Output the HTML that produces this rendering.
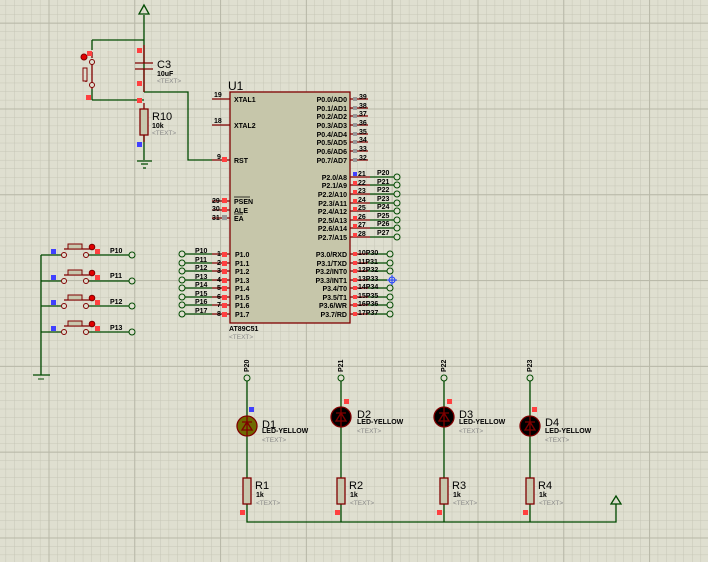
<!DOCTYPE html>
<html><head><meta charset="utf-8"><style>
html,body{margin:0;padding:0;background:#dfdfd0;}
svg{display:block;font-family:"Liberation Sans",sans-serif;}
.g{stroke:#004a00;stroke-width:1.3;fill:none}
.r{stroke:#800000;stroke-width:1.3;fill:none}
.pl{font-size:7px;fill:#000;font-weight:bold}
.t{font-size:6.5px;fill:#888}
.n{font-size:7px;fill:#000;font-weight:bold}
.big{font-size:11px;fill:#000}
</style></head><body>
<svg width="708" height="562" viewBox="0 0 708 562">
<defs>
<pattern id="mi" x="5.6" y="5.5" width="8.58" height="8.58" patternUnits="userSpaceOnUse">
<path d="M0 0H8.58M0 0V8.58" stroke="#c6c6b6" stroke-width="1"/></pattern>
<pattern id="ma" x="48.5" y="22.7" width="85.8" height="85.8" patternUnits="userSpaceOnUse">
<path d="M0 0H85.8M0 0V85.8" stroke="#b8b8a8" stroke-width="2"/></pattern>
</defs>
<rect width="708" height="562" fill="#dfdfd0"/>
<rect width="708" height="562" fill="url(#mi)"/>
<rect width="708" height="562" fill="url(#ma)"/>

<!-- top power / reset -->
<path class="g" d="M144 15V92M144 135V160M92 40H144M92 40V50M92 100H144M92 100V89M144 92H188V160H212"/>
<path d="M139 14L144 5L149 14Z" fill="none" stroke="#004a00" stroke-width="1.3"/>
<path class="r" d="M144 45V63M144 69V92M135 63H153M135 69H153M92 52V58M92 89V84M86 68V82M92 62V85"/>
<circle cx="92" cy="62" r="2.5" fill="#dfdfd0" stroke="#800000"/>
<circle cx="92" cy="85" r="2.5" fill="#dfdfd0" stroke="#800000"/>
<rect x="83" y="68" width="4" height="13" fill="#dfdfd0" stroke="#800000"/>
<circle cx="84" cy="57" r="3" fill="#e00000" stroke="#800000"/>
<rect x="87" y="51" width="5" height="5" fill="#ff4040"/>
<rect x="86" y="95" width="5" height="5" fill="#ff4040"/>
<rect x="137" y="48" width="5" height="5" fill="#ff4040"/>
<rect x="137" y="81" width="5" height="5" fill="#ff4040"/>
<rect x="137" y="98" width="5" height="5" fill="#ff4040"/>
<rect x="140" y="109" width="8" height="26" fill="#c8c8ae" stroke="#800000" stroke-width="1.3"/>
<path class="r" d="M144 103V109M144 135V142"/>
<rect x="137" y="142" width="5" height="5" fill="#4040ff"/>
<path class="g" d="M137 161H152M141 164H148M143 168H146"/>
<text x="157" y="68" class="big">C3</text><text x="157" y="76" class="n">10uF</text><text x="157" y="83" class="t">&lt;TEXT&gt;</text>
<text x="152" y="120" class="big">R10</text><text x="152" y="128" class="n">10k</text><text x="152" y="135" class="t">&lt;TEXT&gt;</text>

<!-- U1 -->
<rect x="230" y="92" width="120" height="231" fill="#c6c6aa" stroke="#800000" stroke-width="1.3"/>
<text x="228" y="90" font-size="12" fill="#000">U1</text>
<text x="229" y="331" class="n">AT89C51</text><text x="229" y="339" class="t">&lt;TEXT&gt;</text>
<path class="r" d="M212 99H230M212 125H230M212 160H230M212 201H230M212 210H230M212 218H230"/>
<text x="214" y="97" class="n">19</text><text x="214" y="123" class="n">18</text><text x="217" y="159" class="n">9</text>
<text x="212" y="203" class="n">29</text><text x="212" y="211" class="n">30</text><text x="212" y="220" class="n">31</text>
<rect x="222" y="157" width="5" height="5" fill="#ff4040"/><rect x="222" y="198" width="5" height="5" fill="#ff4040"/><rect x="222" y="207" width="5" height="5" fill="#ff4040"/><rect x="222" y="215" width="5" height="5" fill="#999"/>
<g class="pl"><text x="234" y="102">XTAL1</text><text x="234" y="128">XTAL2</text><text x="234" y="163">RST</text>
<text x="234" y="204">PSEN</text><text x="234" y="213">ALE</text><text x="234" y="221">EA</text>
<text x="235" y="257">P1.0</text><text x="235" y="266">P1.1</text><text x="235" y="274">P1.2</text><text x="235" y="283">P1.3</text><text x="235" y="291">P1.4</text><text x="235" y="300">P1.5</text><text x="235" y="308">P1.6</text><text x="235" y="317">P1.7</text>
</g>
<path d="M234 197H250M234 214H243" stroke="#000" stroke-width="0.7"/>
<!-- P1 left -->
<path class="g" d="M185 254H212M185 263H212M185 271H212M185 280H212M185 288H212M185 297H212M185 305H212M185 314H212"/>
<path class="r" d="M212 254H230M212 263H230M212 271H230M212 280H230M212 288H230M212 297H230M212 305H230M212 314H230"/>
<g fill="#dfdfd0" stroke="#004a00"><circle cx="182" cy="254" r="3"/><circle cx="182" cy="263" r="3"/><circle cx="182" cy="271" r="3"/><circle cx="182" cy="280" r="3"/><circle cx="182" cy="288" r="3"/><circle cx="182" cy="297" r="3"/><circle cx="182" cy="305" r="3"/><circle cx="182" cy="314" r="3"/></g>
<g class="n"><text x="195" y="253">P10</text><text x="195" y="262">P11</text><text x="195" y="270">P12</text><text x="195" y="279">P13</text><text x="195" y="287">P14</text><text x="195" y="296">P15</text><text x="195" y="304">P16</text><text x="195" y="313">P17</text>
<text x="217" y="256">1</text><text x="217" y="265">2</text><text x="217" y="273">3</text><text x="217" y="282">4</text><text x="217" y="290">5</text><text x="217" y="299">6</text><text x="217" y="307">7</text><text x="217" y="316">8</text></g>
<g fill="#ff4040"><rect x="222" y="252" width="5" height="5"/><rect x="222" y="261" width="5" height="5"/><rect x="222" y="269" width="5" height="5"/><rect x="222" y="278" width="5" height="5"/><rect x="222" y="286" width="5" height="5"/><rect x="222" y="295" width="5" height="5"/><rect x="222" y="303" width="5" height="5"/><rect x="222" y="312" width="5" height="5"/></g>

<!-- P0 right -->
<path class="r" d="M350 99H368M350 108H368M350 116H368M350 125H368M350 134H368M350 142H368M350 151H368M350 160H368"/>
<g fill="#999"><rect x="353" y="97" width="4" height="4"/><rect x="353" y="106" width="4" height="4"/><rect x="353" y="114" width="4" height="4"/><rect x="353" y="123" width="4" height="4"/><rect x="353" y="132" width="4" height="4"/><rect x="353" y="140" width="4" height="4"/><rect x="353" y="149" width="4" height="4"/><rect x="353" y="158" width="4" height="4"/></g>
<g class="n"><text x="359" y="99">39</text><text x="359" y="108">38</text><text x="359" y="116">37</text><text x="359" y="125">36</text><text x="359" y="134">35</text><text x="359" y="142">34</text><text x="359" y="151">33</text><text x="359" y="160">32</text></g>
<g class="pl" text-anchor="end"><text x="347" y="102">P0.0/AD0</text><text x="347" y="111">P0.1/AD1</text><text x="347" y="119">P0.2/AD2</text><text x="347" y="128">P0.3/AD3</text><text x="347" y="137">P0.4/AD4</text><text x="347" y="145">P0.5/AD5</text><text x="347" y="154">P0.6/AD6</text><text x="347" y="163">P0.7/AD7</text>
<text x="347" y="180">P2.0/A8</text><text x="347" y="188">P2.1/A9</text><text x="347" y="197">P2.2/A10</text><text x="347" y="206">P2.3/A11</text><text x="347" y="214">P2.4/A12</text><text x="347" y="223">P2.5/A13</text><text x="347" y="231">P2.6/A14</text><text x="347" y="240">P2.7/A15</text>
<text x="347" y="257">P3.0/RXD</text><text x="347" y="266">P3.1/TXD</text><text x="347" y="274">P3.2/INT0</text><text x="347" y="283">P3.3/INT1</text><text x="347" y="291">P3.4/T0</text><text x="347" y="300">P3.5/T1</text><text x="347" y="308">P3.6/WR</text><text x="347" y="317">P3.7/RD</text></g>
<!-- P2 -->
<path class="r" d="M350 177H370M350 185H370M350 194H370M350 203H370M350 211H370M350 220H370M350 228H370M350 237H370"/>
<path class="g" d="M370 185H394M370 194H394M370 203H394M370 211H394M370 220H394M370 228H394M370 237H394M370 177H394"/>
<g fill="#dfdfd0" stroke="#004a00"><circle cx="397" cy="177" r="3"/><circle cx="397" cy="185" r="3"/><circle cx="397" cy="194" r="3"/><circle cx="397" cy="203" r="3"/><circle cx="397" cy="211" r="3"/><circle cx="397" cy="220" r="3"/><circle cx="397" cy="228" r="3"/><circle cx="397" cy="237" r="3"/></g>
<rect x="353" y="172" width="4" height="4" fill="#4040ff"/>
<g fill="#ff4040"><rect x="353" y="181" width="4" height="4"/><rect x="353" y="190" width="4" height="4"/><rect x="353" y="199" width="4" height="4"/><rect x="353" y="207" width="4" height="4"/><rect x="353" y="216" width="4" height="4"/><rect x="353" y="224" width="4" height="4"/><rect x="353" y="233" width="4" height="4"/></g>
<g class="n"><text x="358" y="176">21</text><text x="358" y="185">22</text><text x="358" y="193">23</text><text x="358" y="202">24</text><text x="358" y="210">25</text><text x="358" y="219">26</text><text x="358" y="227">27</text><text x="358" y="236">28</text>
<text x="377" y="175">P20</text><text x="377" y="184">P21</text><text x="377" y="192">P22</text><text x="377" y="201">P23</text><text x="377" y="209">P24</text><text x="377" y="218">P25</text><text x="377" y="226">P26</text><text x="377" y="235">P27</text></g>
<!-- P3 -->
<path class="r" d="M350 254H368M350 263H368M350 271H368M350 280H368M350 288H368M350 297H368M350 305H368M350 314H368"/>
<path class="g" d="M368 254H387M368 263H387M368 271H387M368 280H387M368 288H387M368 297H387M368 305H387M368 314H387"/>
<g fill="#dfdfd0" stroke="#004a00"><circle cx="390" cy="254" r="3"/><circle cx="390" cy="263" r="3"/><circle cx="390" cy="271" r="3"/><circle cx="390" cy="288" r="3"/><circle cx="390" cy="297" r="3"/><circle cx="390" cy="305" r="3"/><circle cx="390" cy="314" r="3"/></g>
<circle cx="392" cy="280" r="3" fill="none" stroke="#2040ff"/><path d="M387 280H397M392 275V285" stroke="#2040ff"/>
<g fill="#ff4040"><rect x="353" y="252" width="4" height="4"/><rect x="353" y="261" width="4" height="4"/><rect x="353" y="269" width="4" height="4"/><rect x="353" y="278" width="4" height="4"/><rect x="353" y="286" width="4" height="4"/><rect x="353" y="295" width="4" height="4"/><rect x="353" y="303" width="4" height="4"/><rect x="353" y="312" width="4" height="4"/></g>
<g class="n"><text x="358" y="255">10P30</text><text x="358" y="264">11P31</text><text x="358" y="272">12P32</text><text x="358" y="281">13P33</text><text x="358" y="289">14P34</text><text x="358" y="298">15P35</text><text x="358" y="306">16P36</text><text x="358" y="315">17P37</text></g>

<!-- buttons -->
<path class="g" d="M41 255V375M33 375H50M41 255H61M41 281H61M41 306H61M41 332H61M88 255H129M88 281H129M88 306H129M88 332H129"/>
<path d="M38 379H44" stroke="#004a00"/>
<g id="b1">
<circle cx="64" cy="255" r="2.5" fill="#dfdfd0" stroke="#800000"/><circle cx="86" cy="255" r="2.5" fill="#dfdfd0" stroke="#800000"/>
<path class="r" d="M64 249H90M76 249V246"/><rect x="68" y="244" width="14" height="5" fill="#c8c8ae" stroke="#800000"/>
<circle cx="92" cy="247" r="2.8" fill="#e00000" stroke="#800000"/><rect x="95" y="249" width="5" height="5" fill="#ff4040"/>
<rect x="51" y="249" width="5" height="5" fill="#4040ff"/><circle cx="132" cy="255" r="3" fill="#dfdfd0" stroke="#004a00"/>
</g>
<use href="#b1" y="26"/><use href="#b1" y="51"/><use href="#b1" y="77"/>
<g class="n"><text x="110" y="253">P10</text><text x="110" y="278">P11</text><text x="110" y="304">P12</text><text x="110" y="330">P13</text></g>

<!-- LEDs -->
<path class="g" d="M247 381V416M247 436V478M247 504V522H616V504M341 381V407M341 427V478M341 504V522M444 381V407M444 427V478M444 504V522M530 381V416M530 436V478M530 504V522"/>
<path d="M611 504L616 496L621 504Z" fill="none" stroke="#004a00" stroke-width="1.3"/>
<g fill="#dfdfd0" stroke="#004a00"><circle cx="247" cy="378" r="3"/><circle cx="341" cy="378" r="3"/><circle cx="444" cy="378" r="3"/><circle cx="530" cy="378" r="3"/></g>
<g class="n"><text transform="translate(249,372) rotate(-90)">P20</text><text transform="translate(343,372) rotate(-90)">P21</text><text transform="translate(446,372) rotate(-90)">P22</text><text transform="translate(532,372) rotate(-90)">P23</text></g>
<circle cx="247" cy="426" r="10" fill="#6e6a00" stroke="#800000" stroke-width="1.3"/>
<circle cx="341" cy="417" r="10" fill="#000" stroke="#800000" stroke-width="1.3"/>
<circle cx="444" cy="417" r="10" fill="#000" stroke="#800000" stroke-width="1.3"/>
<circle cx="530" cy="426" r="10" fill="#000" stroke="#800000" stroke-width="1.3"/>
<g class="r"><path d="M242 430L247 422L252 430ZM242 422H252M247 416V436"/><path d="M336 421L341 413L346 421ZM336 413H346M341 407V427"/><path d="M439 421L444 413L449 421ZM439 413H449M444 407V427"/><path d="M525 430L530 422L535 430ZM525 422H535M530 416V436"/></g>
<rect x="249" y="407" width="5" height="5" fill="#4040ff"/>
<g fill="#ff4040"><rect x="344" y="399" width="5" height="5"/><rect x="447" y="399" width="5" height="5"/><rect x="532" y="407" width="5" height="5"/>
<rect x="240" y="510" width="5" height="5"/><rect x="335" y="510" width="5" height="5"/><rect x="437" y="510" width="5" height="5"/><rect x="523" y="510" width="5" height="5"/></g>
<g fill="#c8c8ae" stroke="#800000" stroke-width="1.3"><rect x="243" y="478" width="8" height="26"/><rect x="337" y="478" width="8" height="26"/><rect x="440" y="478" width="8" height="26"/><rect x="526" y="478" width="8" height="26"/></g>
<text x="262" y="428" class="big">D1</text><text x="262" y="433" class="n" font-size="6.5">LED-YELLOW</text><text x="262" y="442" class="t">&lt;TEXT&gt;</text>
<text x="357" y="418" class="big">D2</text><text x="357" y="424" class="n" font-size="6.5">LED-YELLOW</text><text x="357" y="433" class="t">&lt;TEXT&gt;</text>
<text x="459" y="418" class="big">D3</text><text x="459" y="424" class="n" font-size="6.5">LED-YELLOW</text><text x="459" y="433" class="t">&lt;TEXT&gt;</text>
<text x="545" y="426" class="big">D4</text><text x="545" y="433" class="n" font-size="6.5">LED-YELLOW</text><text x="545" y="442" class="t">&lt;TEXT&gt;</text>
<text x="255" y="489" class="big">R1</text><text x="256" y="497" class="n">1k</text><text x="256" y="505" class="t">&lt;TEXT&gt;</text>
<text x="349" y="489" class="big">R2</text><text x="350" y="497" class="n">1k</text><text x="350" y="505" class="t">&lt;TEXT&gt;</text>
<text x="452" y="489" class="big">R3</text><text x="453" y="497" class="n">1k</text><text x="453" y="505" class="t">&lt;TEXT&gt;</text>
<text x="538" y="489" class="big">R4</text><text x="539" y="497" class="n">1k</text><text x="539" y="505" class="t">&lt;TEXT&gt;</text>
</svg>
</body></html>
